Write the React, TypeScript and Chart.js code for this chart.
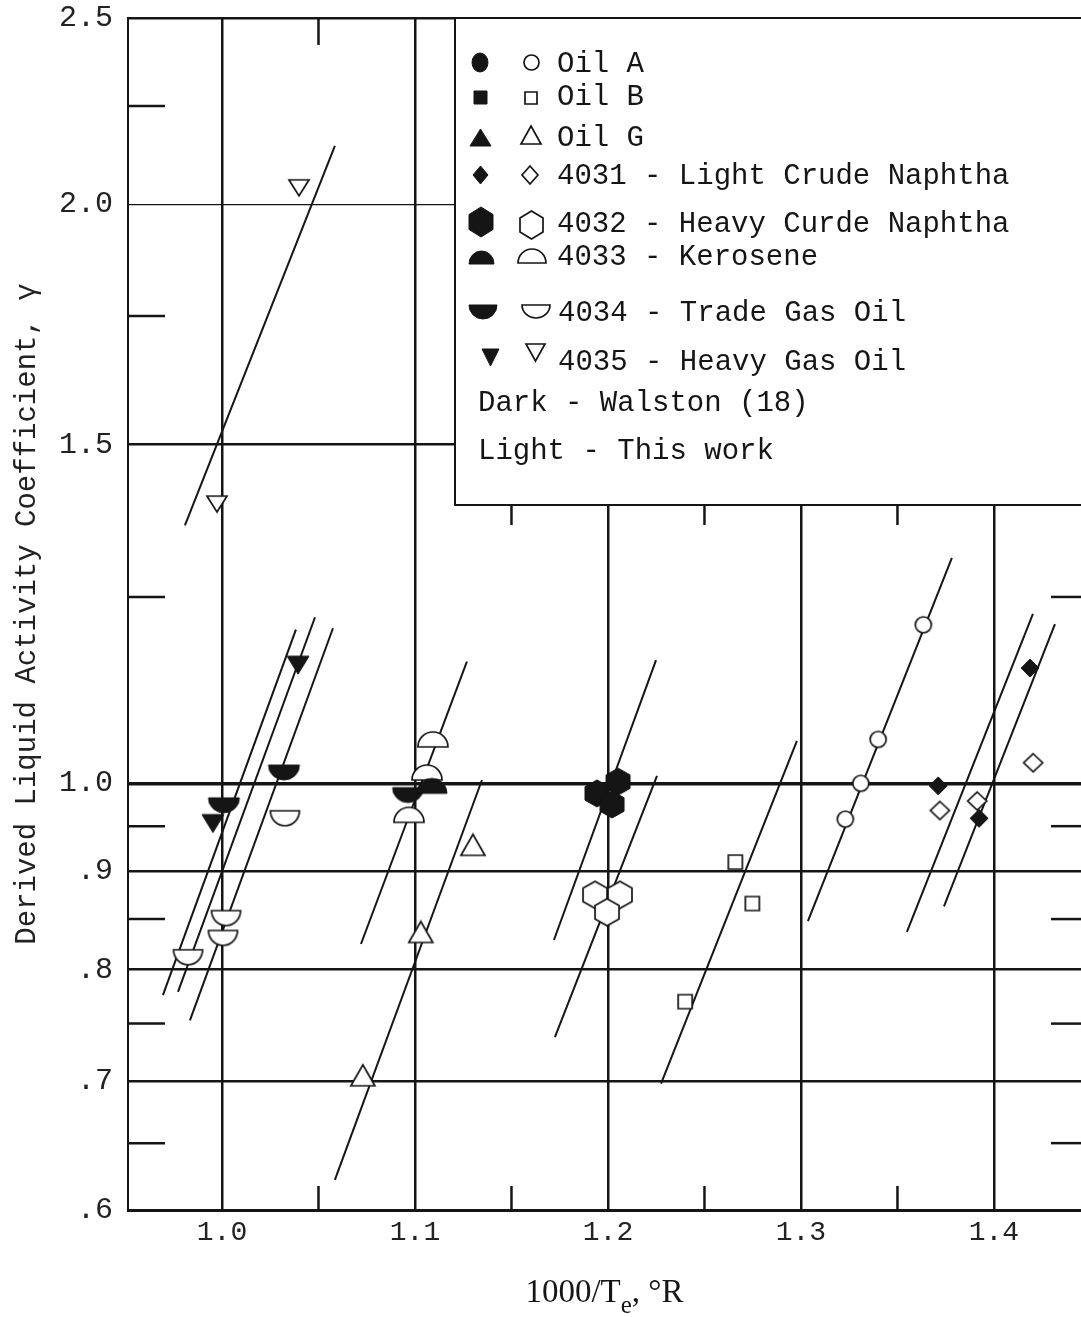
import React, { useEffect, useRef } from "react";
import { Chart, registerables } from "chart.js";

Chart.register(...registerables);

type P = [number, number];

// ---- axis ticks ----
const xTickValues = [1.0, 1.1, 1.2, 1.3, 1.4];
const xMinorValues = [1.05, 1.15, 1.25, 1.35];
const yTickValues = [0.6, 0.7, 0.8, 0.9, 1.0, 1.5, 2.0, 2.5];
const yMinorValues = [2.25, 1.75, 1.25, 0.95, 0.85, 0.75, 0.65];

// ---- data points (x = 1000/Te, y = gamma) ----
const oilALight: P[] = [[1.3634, 1.209], [1.34, 1.054], [1.331, 1.0], [1.323, 0.958]];
const oilBLight: P[] = [[1.266, 0.91], [1.2748, 0.866], [1.24, 0.77]];
const oilGLight: P[] = [[1.13, 0.929], [1.103, 0.837], [1.073, 0.705]];
const n4031Dark: P[] = [[1.3711, 0.997], [1.3923, 0.959], [1.4187, 1.148]];
const n4031Light: P[] = [[1.372, 0.968], [1.3913, 0.979], [1.4203, 1.025]];
const n4032Dark: P[] = [[1.1943, 0.988], [1.2052, 1.002], [1.2021, 0.975]];
const n4032Light: P[] = [[1.1933, 0.875], [1.2062, 0.875], [1.1995, 0.857]];
const n4033Dark: P[] = [[1.1088, 0.997]];
const n4033Light: P[] = [[1.1093, 1.054], [1.1062, 1.013], [1.0969, 0.963]];
const n4034Dark: P[] = [[1.0964, 0.986], [1.0321, 1.013], [1.001, 0.974]];
const n4034Light: P[] = [[1.0326, 0.959], [1.0021, 0.851], [1.0005, 0.831], [0.9824, 0.812]];
const n4035Dark: P[] = [[1.0394, 1.152], [0.9953, 0.953]];
const n4035Light: P[] = [[1.0399, 2.04], [0.9974, 1.397]];

// ---- fitted straight lines (end points) ----
const fitLines: [P, P][] = [
  [[0.9808, 1.362], [1.0585, 2.145]],
  [[0.9694, 0.776], [1.0383, 1.202]],
  [[0.9772, 0.779], [1.0482, 1.22]],
  [[0.9834, 0.753], [1.0575, 1.204]],
  [[1.072, 0.825], [1.1269, 1.157]],
  [[1.0585, 0.622], [1.1347, 1.004]],
  [[1.172, 0.829], [1.2249, 1.159]],
  [[1.1725, 0.738], [1.2254, 1.009]],
  [[1.2275, 0.698], [1.2979, 1.052]],
  [[1.3036, 0.848], [1.3782, 1.31]],
  [[1.3549, 0.837], [1.4202, 1.225]],
  [[1.3741, 0.863], [1.4316, 1.21]],
];

// ---- legend text ----
const legendLabels = [
  "Oil A",
  "Oil B",
  "Oil G",
  "4031 - Light Crude Naphtha",
  "4032 - Heavy Curde Naphtha",
  "4033 - Kerosene",
  "4034 - Trade Gas Oil",
  "4035 - Heavy Gas Oil",
];
const legendNotes = ["Dark - Walston (18)", "Light - This work"];
const yTitle = "Derived Liquid Activity Coefficient, \u03B3";

const INK = "#151515";

function makeMarker(shape: string, filled: boolean, w: number, h: number): HTMLCanvasElement {
  const pad = 2;
  const c = document.createElement("canvas");
  c.width = Math.round(w + pad * 2);
  c.height = Math.round(h + pad * 2);
  const g = c.getContext("2d")!;
  g.translate(pad, pad);
  g.beginPath();
  switch (shape) {
    case "circle":
      g.ellipse(w / 2, h / 2, w / 2, h / 2, 0, 0, Math.PI * 2);
      break;
    case "square":
      g.rect(0, 0, w, h);
      break;
    case "triangle":
      g.moveTo(w / 2, 0);
      g.lineTo(w, h);
      g.lineTo(0, h);
      g.closePath();
      break;
    case "tridown":
      g.moveTo(0, 0);
      g.lineTo(w, 0);
      g.lineTo(w / 2, h);
      g.closePath();
      break;
    case "diamond":
      g.moveTo(w / 2, 0);
      g.lineTo(w, h / 2);
      g.lineTo(w / 2, h);
      g.lineTo(0, h / 2);
      g.closePath();
      break;
    case "hexagon":
      g.moveTo(w / 2, 0);
      g.lineTo(w, h * 0.25);
      g.lineTo(w, h * 0.75);
      g.lineTo(w / 2, h);
      g.lineTo(0, h * 0.75);
      g.lineTo(0, h * 0.25);
      g.closePath();
      break;
    case "dome":
      g.moveTo(0, h);
      g.ellipse(w / 2, h, w / 2, h, 0, Math.PI, Math.PI * 2);
      g.closePath();
      break;
    case "bowl":
      g.moveTo(w, 0);
      g.ellipse(w / 2, 0, w / 2, h, 0, 0, Math.PI);
      g.closePath();
      break;
  }
  g.fillStyle = filled ? INK : "#fff";
  g.fill();
  g.lineWidth = filled ? 1 : 1.7;
  g.strokeStyle = INK;
  g.stroke();
  return c;
}

export default function App() {
  const ref = useRef<HTMLCanvasElement>(null);

  useEffect(() => {
    const canvas = ref.current!;
    const M = makeMarker;

    const pointSets: { data: P[]; img: HTMLCanvasElement }[] = [
      { data: oilALight, img: M("circle", false, 16, 16) },
      { data: oilBLight, img: M("square", false, 14, 14) },
      { data: oilGLight, img: M("triangle", false, 24, 21) },
      { data: n4031Dark, img: M("diamond", true, 18, 18) },
      { data: n4031Light, img: M("diamond", false, 19, 18) },
      { data: n4032Dark, img: M("hexagon", true, 24, 27) },
      { data: n4032Light, img: M("hexagon", false, 24, 27) },
      { data: n4033Dark, img: M("dome", true, 30, 15) },
      { data: n4033Light, img: M("dome", false, 30, 15) },
      { data: n4034Dark, img: M("bowl", true, 31, 15) },
      { data: n4034Light, img: M("bowl", false, 29, 15) },
      { data: n4035Dark, img: M("tridown", true, 22, 18) },
      { data: n4035Light, img: M("tridown", false, 20, 16) },
    ];

    const datasets: any[] = [];
    pointSets.forEach((s) =>
      datasets.push({
        data: s.data.map(([x, y]) => ({ x, y })),
        pointStyle: s.img,
        pointRadius: 6,
        pointHoverRadius: 6,
        showLine: false,
        order: 0,
      })
    );
    fitLines.forEach((seg) =>
      datasets.push({
        data: seg.map(([x, y]) => ({ x, y })),
        showLine: true,
        borderColor: INK,
        borderWidth: 2,
        pointRadius: 0,
        pointHoverRadius: 0,
        fill: false,
        order: 1,
      })
    );

    const legendRows = [
      { dark: M("circle", true, 16, 19), light: M("circle", false, 15, 15), dx: 480, lx: 531, dy: 62, ly: 62, ty: 62, tx: 557 },
      { dark: M("square", true, 13, 13), light: M("square", false, 12, 12), dx: 480, lx: 531, dy: 97, ly: 98, ty: 95, tx: 557 },
      { dark: M("triangle", true, 21, 17), light: M("triangle", false, 20, 18), dx: 480, lx: 531, dy: 137, ly: 135, ty: 136, tx: 557 },
      { dark: M("diamond", true, 15, 18), light: M("diamond", false, 16, 18), dx: 480, lx: 530, dy: 175, ly: 175, ty: 174, tx: 557 },
      { dark: M("hexagon", true, 24, 30), light: M("hexagon", false, 23, 28), dx: 481, lx: 531, dy: 222, ly: 225, ty: 222, tx: 557 },
      { dark: M("dome", true, 25, 13), light: M("dome", false, 28, 14), dx: 481, lx: 532, dy: 257, ly: 256, ty: 255, tx: 557 },
      { dark: M("bowl", true, 28, 14), light: M("bowl", false, 28, 13), dx: 483, lx: 536, dy: 312, ly: 311, ty: 311, tx: 558 },
      { dark: M("tridown", true, 17, 17), light: M("tridown", false, 19, 17), dx: 490, lx: 535, dy: 357, ly: 352, ty: 360, tx: 558 },
    ];

    const bg = {
      id: "bg",
      beforeDraw(chart: any) {
        const c = chart.ctx;
        c.save();
        c.fillStyle = "#fff";
        c.fillRect(0, 0, chart.width, chart.height);
        c.restore();
      },
    };

    const overlay = {
      id: "overlay",
      afterDraw(chart: any) {
        const { ctx, chartArea: a } = chart;
        const xs = chart.scales.x;
        const ys = chart.scales.y;
        const seg = (x1: number, y1: number, x2: number, y2: number) => {
          ctx.beginPath();
          ctx.moveTo(x1, y1);
          ctx.lineTo(x2, y2);
          ctx.stroke();
        };
        ctx.save();
        ctx.strokeStyle = INK;
        ctx.lineWidth = 2.5;
        yMinorValues.forEach((v) => {
          const py = ys.getPixelForValue(v);
          seg(a.left, py, a.left + 37, py);
          seg(a.right - 30, py, a.right, py);
        });
        xMinorValues.forEach((v) => {
          const px = xs.getPixelForValue(v);
          seg(px, a.top, px, a.top + 27);
          seg(px, a.bottom, px, a.bottom - 24);
        });

        // legend box
        const boxL = 455;
        const boxB = 505;
        ctx.fillStyle = "#fff";
        ctx.fillRect(boxL, a.top, a.right + 20 - boxL, boxB - a.top);
        ctx.lineWidth = 2;
        ctx.strokeRect(boxL, a.top, a.right + 20 - boxL, boxB - a.top);
        ctx.lineWidth = 2.5;
        [1.15, 1.25, 1.35].forEach((v) => {
          const px = xs.getPixelForValue(v);
          seg(px, boxB, px, boxB + 20);
        });

        ctx.fillStyle = INK;
        ctx.font = '29px "Liberation Mono"';
        ctx.textBaseline = "alphabetic";
        ctx.textAlign = "left";
        legendRows.forEach((r, i) => {
          ctx.drawImage(r.dark, Math.round(r.dx - r.dark.width / 2), Math.round(r.dy - r.dark.height / 2));
          ctx.drawImage(r.light, Math.round(r.lx - r.light.width / 2), Math.round(r.ly - r.light.height / 2));
          ctx.fillText(legendLabels[i], r.tx, r.ty + 10);
        });
        ctx.fillText(legendNotes[0], 478, 411);
        ctx.fillText(legendNotes[1], 478, 459);

        // x-axis title with subscript
        const base = 1302;
        const f1 = '33px "Liberation Serif"';
        const f2 = '25px "Liberation Serif"';
        ctx.font = f1;
        const w1 = ctx.measureText("1000/T").width;
        const w3 = ctx.measureText(", \u00B0R").width;
        ctx.font = f2;
        const w2 = ctx.measureText("e").width;
        const total = w1 + w2 + w3;
        let sx = (a.left + a.right) / 2 - total / 2;
        ctx.font = f1;
        ctx.fillText("1000/T", sx, base);
        sx += w1;
        ctx.font = f2;
        ctx.fillText("e", sx, base + 11);
        sx += w2;
        ctx.font = f1;
        ctx.fillText(", \u00B0R", sx, base);
        ctx.restore();
      },
    };

    const chart = new Chart(canvas, {
      type: "scatter",
      data: { datasets },
      options: {
        responsive: false,
        animation: false,
        devicePixelRatio: 1,
        events: [],
        layout: { autoPadding: false, padding: { top: 18, left: 0, right: 0, bottom: 0 } },
        plugins: { legend: { display: false }, tooltip: { enabled: false } },
        scales: {
          x: {
            type: "linear",
            min: 0.9513,
            max: 1.4451,
            afterBuildTicks: (axis: any) => {
              axis.ticks = xTickValues.map((v) => ({ value: v }));
            },
            afterFit: (axis: any) => {
              axis.height = 107;
              axis.paddingLeft = 0;
              axis.paddingRight = 0;
              axis.paddingTop = 0;
              axis.paddingBottom = 0;
            },
            ticks: {
              autoSkip: false,
              maxRotation: 0,
              padding: 6,
              color: "#222",
              font: { family: "Liberation Mono", size: 28 },
              callback: (v: any) => Number(v).toFixed(1),
            },
            grid: { color: INK, lineWidth: 2.5, drawTicks: false },
            border: { display: true, color: INK, width: 3 },
          },
          y: {
            type: "logarithmic",
            min: 0.6,
            max: 2.5,
            afterBuildTicks: (axis: any) => {
              axis.ticks = yTickValues.map((v) => ({ value: v }));
            },
            afterFit: (axis: any) => {
              axis.width = 128;
              axis.paddingLeft = 0;
              axis.paddingRight = 0;
              axis.paddingTop = 0;
              axis.paddingBottom = 0;
            },
            ticks: {
              autoSkip: false,
              padding: 15,
              color: "#222",
              font: { family: "Liberation Mono", size: 30 },
              callback: (v: any) => {
                const n = Number(v);
                return n < 1 ? "." + Math.round(n * 10) : n.toFixed(1);
              },
            },
            grid: {
              drawTicks: false,
              color: (c: any) => {
                const v = c.tick ? c.tick.value : 0;
                return Math.abs(v - 0.6) < 1e-6 ? "rgba(0,0,0,0)" : INK;
              },
              lineWidth: (c: any) => {
                const v = c.tick ? c.tick.value : 0;
                if (Math.abs(v - 1) < 1e-6) return 3.5;
                if (Math.abs(v - 2) < 1e-6) return 1.2;
                return 2.5;
              },
            },
            border: { display: true, color: INK, width: 2 },
            title: {
              display: true,
              text: yTitle,
              color: "#222",
              font: { family: "Liberation Mono", size: 29 },
              padding: { top: 10, bottom: 0 },
            },
          },
        },
      } as any,
      plugins: [bg, overlay],
    });
    return () => chart.destroy();
  }, []);

  return (
    <div
      style={{
        position: "absolute",
        left: 0,
        top: 0,
        width: 1081,
        height: 1317,
        overflow: "hidden",
        background: "#fff",
      }}
    >
      <canvas ref={ref} width={1081} height={1317} style={{ display: "block" }} />
    </div>
  );
}
